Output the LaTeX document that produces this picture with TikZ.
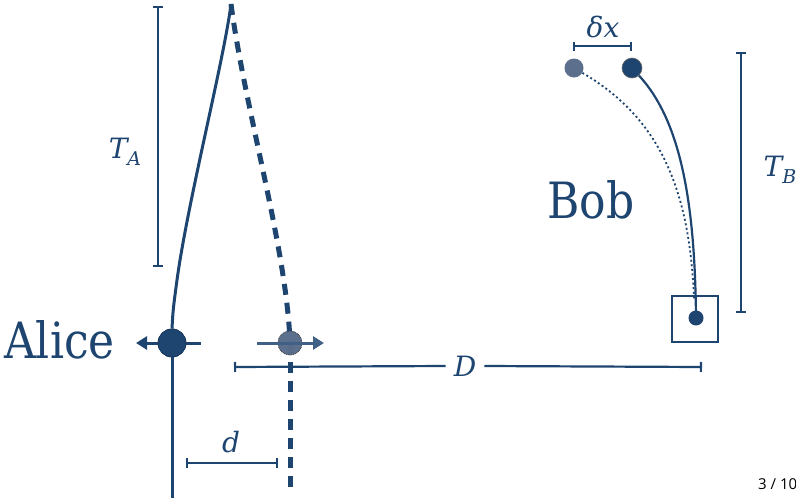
\documentclass[tikz,border=0pt]{standalone}
\usepackage{fontspec}
\setmainfont{DejaVu Serif}
\setsansfont{Open Sans}
\usetikzlibrary{arrows.meta}
\definecolor{navy}{RGB}{30,68,112}
\definecolor{greydot}{RGB}{92,112,142}
\newcommand{\subidx}[2]{{\itshape #1\raisebox{-7pt}{\fontsize{19}{19}\selectfont #2}}}
\newcommand{\bigtext}[1]{\scalebox{0.88}[1]{#1}}
\begin{document}
\begin{tikzpicture}[x=1pt,y=-1pt,
  bar/.style={navy,line width=2.2pt,{Bar[width=10pt]}-{Bar[width=10pt]}},
  lbl/.style={text=navy,font=\fontsize{28}{28}\selectfont\itshape,inner sep=0pt},
  big/.style={text=navy,font=\fontsize{50}{50}\selectfont,inner sep=0pt}]
\useasboundingbox (0,0) rectangle (796,498);
% Alice worldline
\coordinate (atop) at (231,4);
\coordinate (abot) at (172,498);
\node[circle,fill=navy,draw=navy!80!black,line width=0.6pt,minimum size=28pt,inner sep=0pt] (alice) at (172,343) {};
\draw[navy,line width=3pt] (atop) .. controls (224,60) and (188,200) .. (177,280) .. controls (173,310) .. (alice.north);
\draw[navy,line width=3pt] (alice.south) -- (abot);
% dashed worldline
\coordinate (dtop) at (231,4);
\coordinate (dbot) at (290,492);
\node[circle,fill=greydot,draw=black!70,densely dotted,line width=0.8pt,minimum size=24pt,inner sep=0pt] (ghost) at (290,343) {};
\draw[navy,line width=5pt,dash pattern=on 11pt off 8pt] (dtop) .. controls (245,110) and (287,250) .. (ghost.center);
\draw[navy,line width=5pt,dash pattern=on 11pt off 8pt] (ghost.center) -- (dbot);
\node[circle,fill=greydot,fill opacity=0.92,draw=black!70,densely dotted,line width=0.8pt,minimum size=24pt,inner sep=0pt] at (ghost) {};
% arrows
\coordinate (aL) at (136,343);
\coordinate (aR) at (201,343);
\draw[navy,line width=3pt,-{Triangle[length=11pt,width=13pt]}] (aR) -- (aL);
\node[circle,fill=navy,draw=navy!80!black,line width=0.6pt,minimum size=28pt,inner sep=0pt] at (alice) {};
\coordinate (gL) at (257,343);
\coordinate (gR) at (324,343);
\draw[navy!85!white,line width=3pt,-{Triangle[length=11pt,width=13pt]}] (gL) -- (gR);
% labels
\node[big,anchor=base west] (alicet) at (4,358) {\bigtext{Alice}};
\node[big,anchor=base west] (bobt) at (547,218) {\bigtext{Bob}};
% T_A bar
\coordinate (taT) at (158,6);
\coordinate (taB) at (158,267);
\draw[bar] (taT) -- (taB);
\node[lbl] (ta) at (125,152) {\subidx{T}{A}};
% D bar
\coordinate (dL) at (234,367);
\coordinate (dR) at (702,367);
\node[lbl,fill=white,inner xsep=8pt] (Dl) at (465,366) {D};
\draw[navy,line width=2.2pt,{Bar[width=10pt]}-] (dL) -- (Dl.west);
\draw[navy,line width=2.2pt,-{Bar[width=10pt]}] (Dl.east) -- (dR);
% d bar
\coordinate (sdL) at (186,463);
\coordinate (sdR) at (278,463);
\draw[bar] (sdL) -- (sdR);
\node[lbl] (dlab) at (231,442) {d};
% Bob
\node[circle,fill=greydot,minimum size=19pt,inner sep=0pt] (bg) at (574,68) {};
\node[circle,fill=navy,draw=black!60,line width=0.6pt,minimum size=20pt,inner sep=0pt] (bn) at (632,68) {};
\node[circle,fill=navy,minimum size=15pt,inner sep=0pt] (bob) at (696,318) {};
\node[draw=navy,line width=1.8pt,minimum width=46pt,minimum height=46pt,inner sep=0pt] (box) at (695,319) {};
\draw[navy,line width=1.8pt,dash pattern=on 2pt off 2.6pt] (bg) .. controls (660,118) and (690,190) .. (694,300);
\draw[navy,line width=2.2pt] (bn) .. controls (680,120) and (695,200) .. (bob.center);
% delta x bar
\coordinate (xL) at (573,46);
\coordinate (xR) at (632,46);
\draw[navy,line width=2.2pt,{Bar[width=9pt]}-{Bar[width=9pt]}] (xL) -- (xR);
\node[lbl] (dx) at (603,27) {δx};
% T_B bar
\coordinate (tbT) at (741,52);
\coordinate (tbB) at (741,313);
\draw[bar] (tbT) -- (tbB);
\node[lbl] (tb) at (780,170) {\subidx{T}{B}};
% page number
\node[anchor=base west,inner sep=0pt,font=\sffamily\fontsize{15}{15}\selectfont] (pg) at (758,489) {3 / 10};
\end{tikzpicture}
\end{document}
